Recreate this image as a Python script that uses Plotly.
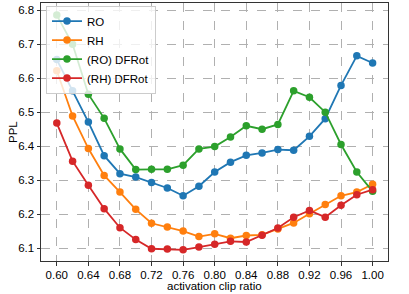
import plotly.graph_objects as go

x_vals = [0.60, 0.62, 0.64, 0.66, 0.68, 0.70, 0.72, 0.74, 0.76, 0.78, 0.80,
          0.82, 0.84, 0.86, 0.88, 0.90, 0.92, 0.94, 0.96, 0.98, 1.00]

ro = [6.655, 6.563, 6.471, 6.372, 6.319, 6.309, 6.293, 6.277, 6.254, 6.282, 6.324,
      6.353, 6.373, 6.380, 6.390, 6.388, 6.429, 6.481, 6.579, 6.666, 6.645]
rh = [6.622, 6.489, 6.393, 6.314, 6.265, 6.214, 6.173, 6.162, 6.150, 6.134, 6.142,
      6.129, 6.137, 6.139, 6.156, 6.174, 6.201, 6.228, 6.254, 6.265, 6.288]
ro_dfrot = [6.786, 6.700, 6.553, 6.482, 6.392, 6.331, 6.332, 6.332, 6.344, 6.392, 6.399,
            6.427, 6.460, 6.450, 6.464, 6.563, 6.544, 6.500, 6.405, 6.324, 6.267]
rh_dfrot = [6.468, 6.356, 6.285, 6.216, 6.160, 6.125, 6.098, 6.097, 6.095, 6.103, 6.111,
            6.120, 6.118, 6.138, 6.159, 6.191, 6.211, 6.191, 6.226, 6.257, 6.272]

series = [("RO", ro, "#1f77b4"), ("RH", rh, "#ff7f0e"),
          ("(RO) DFRot", ro_dfrot, "#2ca02c"), ("(RH) DFRot", rh_dfrot, "#d62728")]

x_ticks = [0.60, 0.64, 0.68, 0.72, 0.76, 0.80, 0.84, 0.88, 0.92, 0.96, 1.00]
y_ticks = [6.1, 6.2, 6.3, 6.4, 6.5, 6.6, 6.7, 6.8]

FAM = "Liberation Sans, Arial, sans-serif"

fig = go.Figure()
for name, vals, col in series:
    fig.add_trace(go.Scatter(x=x_vals, y=vals, name=name, mode="lines+markers",
                             line=dict(color=col, width=1.8),
                             marker=dict(color=col, size=7.5)))

fig.update_layout(
    width=409, height=294,
    margin=dict(l=41, r=21, t=3, b=33),
    paper_bgcolor="white", plot_bgcolor="white",
    font=dict(family=FAM, size=11.5, color="black"),
    showlegend=True,
    legend=dict(x=0.0144, y=0.99, xanchor="left", yanchor="top",
                bgcolor="rgba(255,255,255,0.8)", bordercolor="#cccccc", borderwidth=1,
                font=dict(family=FAM, size=11.5, color="black"),
                tracegroupgap=0, itemwidth=30),
    annotations=[
        dict(text="activation clip ratio", xref="paper", yref="paper",
             x=0.5, y=(260.7 - 286) / 257.7, xanchor="center", yanchor="middle",
             showarrow=False, font=dict(family=FAM, size=11.5, color="black")),
        dict(text="PPL", xref="paper", yref="paper", textangle=-90,
             x=(13 - 41) / 346.7, y=0.5, xanchor="center", yanchor="middle",
             showarrow=False, font=dict(family=FAM, size=11.5, color="black")),
    ],
)
fig.update_xaxes(range=[0.58, 1.0195], tickvals=x_ticks,
                 ticktext=[f"{v:.2f}" for v in x_ticks],
                 showgrid=True, gridcolor="#b0b0b0", griddash="dash", gridwidth=0.8,
                 showline=True, linecolor="#333333", linewidth=1, mirror=True,
                 ticks="outside", ticklen=3.5, tickcolor="#333333",
                 zeroline=False)
fig.update_yaxes(range=[6.062, 6.8215], tickvals=y_ticks,
                 ticktext=[f"{v:.1f}" for v in y_ticks],
                 showgrid=True, gridcolor="#b0b0b0", griddash="dash", gridwidth=0.8,
                 showline=True, linecolor="#333333", linewidth=1, mirror=True,
                 ticks="outside", ticklen=3.5, tickcolor="#333333",
                 zeroline=False)

fig.write_html("out.html", config={"displayModeBar": False},
               post_script="document.body.style.margin='0';document.body.style.overflow='hidden';")
